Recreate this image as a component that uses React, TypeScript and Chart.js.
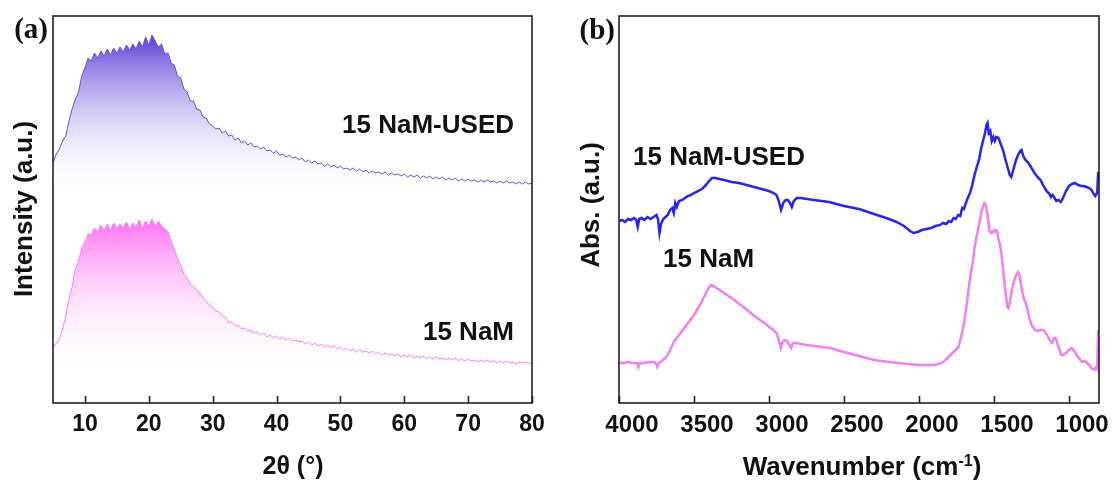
import React, { useEffect, useRef } from "react";
import { Chart, registerables } from "chart.js";
Chart.register(...registerables);

// ---------- Panel (a): XRD ----------
const XRD_ANGLE = [
  5, 5.5, 6, 6.5, 7, 7.5, 8, 8.5, 9, 9.5, 10, 10.5, 11, 11.5, 12, 12.5, 13, 13.5, 14, 14.5,
  15, 15.5, 16, 16.5, 17, 17.5, 18, 18.5, 19, 19.5, 20, 20.5, 21, 21.5, 22, 22.5, 23, 23.5, 24, 24.5,
  25, 25.5, 26, 26.5, 27, 27.5, 28, 28.5, 29, 29.5, 30, 30.5, 31, 31.5, 32, 32.5, 33, 33.5, 34, 34.5,
  35, 35.5, 36, 36.5, 37, 37.5, 38, 38.5, 39, 39.5, 40, 40.5, 41, 41.5, 42, 42.5, 43, 43.5, 44, 44.5,
  45, 45.5, 46, 46.5, 47, 47.5, 48, 48.5, 49, 49.5, 50, 50.5, 51, 51.5, 52, 52.5, 53, 53.5, 54, 54.5,
  55, 55.5, 56, 56.5, 57, 57.5, 58, 58.5, 59, 59.5, 60, 60.5, 61, 61.5, 62, 62.5, 63, 63.5, 64, 64.5,
  65, 65.5, 66, 66.5, 67, 67.5, 68, 68.5, 69, 69.5, 70, 70.5, 71, 71.5, 72, 72.5, 73, 73.5, 74, 74.5,
  75, 75.5, 76, 76.5, 77, 77.5, 78, 78.5, 79, 79.5, 80,
];
const XRD_USED = [
  240, 249, 254, 262, 267, 282, 294, 304, 311, 327, 335, 345, 342, 350, 345, 352, 347, 354, 348, 355,
  350, 356, 351, 358, 353, 359, 354, 362, 356, 366, 358, 368, 362, 356, 359, 349, 350, 340, 338, 327,
  325, 314, 311, 302, 302, 294, 293, 286, 285, 279, 277, 274, 275, 270, 272, 267, 268, 263, 265, 260,
  262, 258, 260, 256, 257, 254, 256, 252, 253, 250, 252, 248, 249, 246, 248, 245, 246, 243, 245, 241,
  243, 240, 242, 239, 240, 237, 239, 236, 238, 235, 237, 234, 235, 233, 235, 232, 234, 231, 233, 230,
  232, 230, 231, 229, 231, 228, 230, 228, 229, 227, 229, 226, 228, 226, 228, 225, 227, 225, 227, 224,
  226, 224, 226, 223, 225, 223, 225, 222, 224, 222, 224, 222, 223, 221, 223, 221, 223, 221, 222, 220,
  222, 220, 222, 220, 221, 219, 221, 219, 221, 219, 220,
];
const XRD_FRESH = [
  55, 60, 64, 74, 87, 104, 116, 134, 142, 155, 161, 169, 168, 175, 171, 178, 172, 179, 173, 180,
  174, 179, 175, 181, 174, 180, 176, 183, 175, 182, 177, 184, 176, 182, 177, 174, 171, 162, 154, 144,
  138, 129, 125, 119, 117, 113, 110, 105, 102, 98, 96, 92, 91, 87, 86, 81, 81, 77, 78, 74,
  75, 72, 73, 70, 71, 68, 70, 66, 68, 65, 67, 64, 66, 63, 65, 62, 63, 61, 62, 59,
  61, 58, 60, 57, 59, 56, 58, 55, 57, 54, 56, 53, 55, 52, 54, 51, 53, 51, 52, 50,
  52, 49, 51, 48, 50, 48, 49, 47, 49, 46, 48, 46, 48, 45, 47, 45, 47, 44, 46, 44,
  46, 44, 45, 43, 45, 43, 45, 42, 44, 42, 44, 42, 43, 41, 43, 41, 43, 41, 42, 40,
  42, 40, 42, 40, 41, 39, 41, 40, 41, 39, 41,
];
const XRD_TICKS = [10, 20, 30, 40, 50, 60, 70, 80];

// ---------- Panel (b): FTIR ----------
const FTIR_WN_USED = [
  4000, 3980, 3960, 3940, 3920, 3900, 3885, 3875, 3865, 3850, 3830, 3810, 3790, 3770, 3750, 3740, 3730, 3720, 3705, 3690,
  3675, 3660, 3645, 3635, 3625, 3615, 3600, 3580, 3560, 3540, 3520, 3500, 3470, 3440, 3420, 3400, 3380, 3360, 3330, 3300,
  3250, 3200, 3150, 3100, 3050, 3000, 2970, 2950, 2935, 2920, 2905, 2890, 2875, 2860, 2848, 2835, 2815, 2790, 2700, 2600,
  2500, 2400, 2300, 2200, 2150, 2100, 2060, 2035, 2010, 1980, 1950, 1920, 1890, 1860, 1840, 1820, 1800, 1785, 1770, 1755,
  1740, 1725, 1712, 1700, 1690, 1675, 1660, 1645, 1630, 1615, 1600, 1585, 1570, 1560, 1550, 1543, 1535, 1525, 1515, 1505,
  1495, 1485, 1470, 1455, 1440, 1425, 1410, 1395, 1385, 1370, 1355, 1340, 1325, 1317, 1305, 1290, 1270, 1250, 1230, 1210,
  1190, 1170, 1150, 1130, 1120, 1110, 1100, 1085, 1070, 1055, 1040, 1020, 1000, 980, 960, 940, 920, 900, 884, 865,
  850, 835, 825, 812, 806, 800,
];
const FTIR_USED = [
  1.82, 1.83, 1.81, 1.84, 1.83, 1.85, 1.83, 1.76, 1.84, 1.85, 1.83, 1.86, 1.84, 1.86, 1.88, 1.84, 1.70, 1.79, 1.84, 1.86,
  1.88, 1.93, 1.95, 1.90, 2.00, 1.96, 2.02, 2.03, 2.05, 2.07, 2.08, 2.10, 2.12, 2.15, 2.18, 2.22, 2.25, 2.25, 2.24, 2.23,
  2.21, 2.20, 2.18, 2.16, 2.14, 2.12, 2.10, 2.08, 2.02, 1.93, 2.00, 2.03, 2.03, 2.00, 1.96, 2.02, 2.05, 2.05, 2.03, 2.01,
  1.97, 1.94, 1.89, 1.84, 1.81, 1.77, 1.72, 1.70, 1.71, 1.73, 1.74, 1.75, 1.77, 1.78, 1.80, 1.79, 1.82, 1.81, 1.85, 1.84,
  1.88, 1.87, 1.95, 1.94, 1.99, 2.05, 2.10, 2.18, 2.28, 2.36, 2.43, 2.55, 2.64, 2.70, 2.78, 2.80, 2.70, 2.72, 2.62, 2.66,
  2.62, 2.66, 2.65, 2.59, 2.53, 2.44, 2.36, 2.28, 2.26, 2.34, 2.42, 2.48, 2.52, 2.53, 2.47, 2.43, 2.40, 2.35, 2.30, 2.26,
  2.23, 2.17, 2.12, 2.09, 2.06, 2.08, 2.06, 2.02, 2.03, 2.01, 2.05, 2.12, 2.17, 2.19, 2.20, 2.18, 2.17, 2.17, 2.16, 2.15,
  2.13, 2.09, 2.07, 2.10, 2.30, 2.30,
];
const FTIR_WN_FRESH = [
  4000, 3970, 3940, 3910, 3880, 3870, 3860, 3830, 3800, 3770, 3755, 3745, 3735, 3715, 3700, 3685, 3665, 3650, 3630, 3611,
  3590, 3570, 3540, 3520, 3500, 3480, 3460, 3440, 3420, 3400, 3385, 3370, 3350, 3320, 3300, 3270, 3240, 3207, 3170, 3130,
  3089, 3050, 3020, 3000, 2970, 2950, 2935, 2922, 2910, 2895, 2880, 2865, 2852, 2840, 2820, 2790, 2750, 2700, 2650, 2591,
  2550, 2500, 2450, 2400, 2350, 2300, 2250, 2200, 2141, 2080, 2000, 1950, 1903, 1870, 1850, 1832, 1810, 1790, 1770, 1750,
  1737, 1730, 1720, 1710, 1700, 1690, 1678, 1665, 1652, 1642, 1630, 1620, 1607, 1595, 1585, 1575, 1565, 1558, 1550, 1540,
  1530, 1520, 1510, 1500, 1490, 1480, 1470, 1460, 1450, 1440, 1430, 1420, 1410, 1405, 1395, 1385, 1370, 1355, 1340, 1330,
  1320, 1310, 1300, 1289, 1275, 1265, 1255, 1242, 1225, 1210, 1190, 1171, 1155, 1140, 1125, 1113, 1100, 1089, 1075, 1060,
  1053, 1040, 1020, 1000, 982, 965, 950, 930, 912, 895, 880, 865, 852, 840, 830, 820, 812, 806, 800,
];
const FTIR_FRESH = [
  0.40, 0.40, 0.41, 0.40, 0.40, 0.36, 0.40, 0.40, 0.41, 0.41, 0.40, 0.36, 0.40, 0.42, 0.44, 0.46, 0.51, 0.56, 0.62, 0.66,
  0.70, 0.74, 0.80, 0.84, 0.88, 0.93, 0.98, 1.04, 1.10, 1.16, 1.18, 1.17, 1.15, 1.12, 1.10, 1.07, 1.04, 1.00, 0.96, 0.91,
  0.86, 0.82, 0.79, 0.76, 0.73, 0.70, 0.63, 0.55, 0.61, 0.63, 0.62, 0.58, 0.55, 0.60, 0.60, 0.59, 0.58, 0.57, 0.56, 0.55,
  0.53, 0.51, 0.49, 0.47, 0.45, 0.43, 0.42, 0.41, 0.40, 0.39, 0.38, 0.38, 0.38, 0.39, 0.40, 0.42, 0.45, 0.48, 0.51, 0.54,
  0.56, 0.60, 0.66, 0.72, 0.80, 0.90, 1.04, 1.20, 1.32, 1.40, 1.55, 1.64, 1.73, 1.82, 1.90, 1.96, 2.00, 1.99, 1.94, 1.84,
  1.72, 1.70, 1.72, 1.71, 1.73, 1.72, 1.64, 1.58, 1.48, 1.34, 1.20, 1.06, 0.96, 0.95, 1.00, 1.10, 1.20, 1.27, 1.31, 1.28,
  1.18, 1.10, 1.04, 1.00, 0.92, 0.85, 0.80, 0.76, 0.73, 0.72, 0.73, 0.73, 0.70, 0.66, 0.62, 0.60, 0.65, 0.65, 0.58, 0.52,
  0.48, 0.48, 0.50, 0.53, 0.55, 0.52, 0.48, 0.44, 0.41, 0.42, 0.40, 0.38, 0.35, 0.34, 0.33, 0.36, 0.34, 0.72, 0.72,
];
const FTIR_TICKS = [4000, 3500, 3000, 2500, 2000, 1500, 1000];

const SANS = '"Liberation Sans", Arial, sans-serif';
const SERIF = '"Liberation Serif", "Times New Roman", serif';

type TextItem = {
  text: string;
  x: number;
  y: number;
  font: string;
  align?: CanvasTextAlign;
  baseline?: CanvasTextBaseline;
  rotate?: number;
  sup?: string;
  tail?: string;
  supFont?: string;
};

const decorPlugin = {
  id: "decor",
  afterDraw(chart: any, _args: any, opts: any) {
    const { ctx, chartArea: a } = chart;
    const xs = chart.scales.x;
    ctx.save();
    ctx.strokeStyle = "#222";
    ctx.lineWidth = 1.6;
    ctx.strokeRect(a.left, a.top, a.right - a.left, a.bottom - a.top);
    xs.ticks.forEach((t: any) => {
      const px = Math.round(xs.getPixelForValue(t.value)) + 0.5;
      ctx.beginPath();
      ctx.moveTo(px, a.bottom);
      ctx.lineTo(px, a.bottom - 7);
      ctx.stroke();
    });
    ctx.fillStyle = "#111";
    (opts.texts || []).forEach((t: TextItem) => {
      ctx.save();
      ctx.translate(t.x, t.y);
      if (t.rotate) ctx.rotate(t.rotate);
      ctx.font = t.font;
      ctx.textBaseline = t.baseline || "alphabetic";
      if (t.sup) {
        const w1 = ctx.measureText(t.text).width;
        ctx.font = t.supFont!;
        const w2 = ctx.measureText(t.sup).width;
        ctx.font = t.font;
        const w3 = ctx.measureText(t.tail || "").width;
        const x0 = -(w1 + w2 + w3) / 2;
        ctx.textAlign = "left";
        ctx.fillText(t.text, x0, 0);
        ctx.font = t.supFont!;
        ctx.fillText(t.sup, x0 + w1, -9);
        ctx.font = t.font;
        ctx.fillText(t.tail || "", x0 + w1 + w2, 0);
      } else {
        ctx.textAlign = t.align || "center";
        ctx.fillText(t.text, 0, 0);
      }
      ctx.restore();
    });
    ctx.restore();
  },
};

function pts(xs: number[], ys: number[]) {
  return xs.map((x, i) => ({ x, y: ys[i] }));
}

function gradientFill(color: string, topVal: number, botVal: number) {
  return (c: any) => {
    const chart = c.chart;
    const ys = chart.scales?.y;
    if (!chart.chartArea || !ys) return color;
    const g = chart.ctx.createLinearGradient(0, ys.getPixelForValue(topVal), 0, ys.getPixelForValue(botVal));
    g.addColorStop(0, color);
    g.addColorStop(1, "rgba(255,255,255,0)");
    return g;
  };
}

function XrdChart() {
  const ref = useRef<HTMLCanvasElement>(null);
  useEffect(() => {
    const chart = new Chart(ref.current!, {
      type: "line",
      data: {
        datasets: [
          {
            label: "15 NaM-USED",
            data: pts(XRD_ANGLE, XRD_USED),
            borderColor: "rgb(105,80,225)",
            borderWidth: 1,
            pointRadius: 0,
            fill: "origin",
            backgroundColor: gradientFill("rgba(88,58,212,1)", 370, 205),
          },
          {
            label: "15 NaM",
            data: pts(XRD_ANGLE, XRD_FRESH),
            borderColor: "rgb(255,125,245)",
            borderWidth: 1,
            pointRadius: 0,
            fill: "origin",
            backgroundColor: gradientFill("rgba(255,110,242,1)", 185, 30),
          },
        ],
      },
      options: {
        responsive: false,
        animation: false,
        devicePixelRatio: 1,
        layout: { padding: { top: 16, right: 28, left: 0, bottom: 0 } },
        plugins: {
          legend: { display: false },
          tooltip: { enabled: false },
          decor: {
            texts: [
              { text: "(a)", x: 48, y: 31, font: `bold 29px ${SERIF}`, align: "right", baseline: "middle" },
              { text: "Intensity (a.u.)", x: 25, y: 209, font: `bold 26px ${SANS}`, rotate: -Math.PI / 2, baseline: "middle" },
              { text: "2θ (°)", x: 293, y: 467, font: `bold 25px ${SANS}`, baseline: "middle" },
              { text: "15 NaM-USED", x: 514, y: 133, font: `bold 26px ${SANS}`, align: "right" },
              { text: "15 NaM", x: 514, y: 340, font: `bold 26px ${SANS}`, align: "right" },
            ],
          },
        } as any,
        scales: {
          x: {
            type: "linear",
            min: 5,
            max: 80,
            afterFit: (s: any) => { s.height = 83; },
            afterBuildTicks: (s: any) => { s.ticks = XRD_TICKS.map((v) => ({ value: v })); },
            grid: { display: false, drawTicks: false },
            border: { display: false },
            ticks: {
              color: "#111", padding: 8, maxRotation: 0,
              callback: (v: any) => String(v),
              font: { family: SANS, size: 23, weight: "bold" },
            },
          },
          y: {
            type: "linear",
            min: 0,
            max: 387,
            afterFit: (s: any) => { s.width = 53; },
            grid: { display: false, drawTicks: false },
            border: { display: false },
            ticks: { display: false },
          },
        },
      },
      plugins: [decorPlugin],
    });
    return () => chart.destroy();
  }, []);
  return <canvas ref={ref} width={560} height={486} style={{ position: "absolute", left: 0, top: 0 }} />;
}

function FtirChart() {
  const ref = useRef<HTMLCanvasElement>(null);
  useEffect(() => {
    const chart = new Chart(ref.current!, {
      type: "line",
      data: {
        datasets: [
          {
            label: "15 NaM-USED",
            data: pts(FTIR_WN_USED, FTIR_USED),
            borderColor: "rgb(38,38,232)",
            borderWidth: 2.5,
            pointRadius: 0,
            fill: false,
          },
          {
            label: "15 NaM",
            data: pts(FTIR_WN_FRESH, FTIR_FRESH),
            borderColor: "rgb(240,128,240)",
            borderWidth: 2.5,
            pointRadius: 0,
            fill: false,
          },
        ],
      },
      options: {
        responsive: false,
        animation: false,
        devicePixelRatio: 1,
        layout: { padding: { top: 16, right: 19, left: 0, bottom: 0 } },
        plugins: {
          legend: { display: false },
          tooltip: { enabled: false },
          decor: {
            texts: [
              { text: "(b)", x: 55, y: 32, font: `bold 29px ${SERIF}`, align: "right", baseline: "middle" },
              { text: "Abs. (a.u.)", x: 32, y: 205, font: `bold 26px ${SANS}`, rotate: -Math.PI / 2, baseline: "middle" },
              { text: "Wavenumber (cm", sup: "-1", tail: ")", supFont: `bold 16px ${SANS}`, x: 302, y: 475, font: `bold 26px ${SANS}` },
              { text: "15 NaM-USED", x: 73, y: 165, font: `bold 26px ${SANS}`, align: "left" },
              { text: "15 NaM", x: 103, y: 267, font: `bold 26px ${SANS}`, align: "left" },
            ],
          },
        } as any,
        scales: {
          x: {
            type: "linear",
            reverse: true,
            min: 800,
            max: 4000,
            afterFit: (s: any) => { s.height = 83; },
            afterBuildTicks: (s: any) => { s.ticks = FTIR_TICKS.map((v) => ({ value: v })); },
            grid: { display: false, drawTicks: false },
            border: { display: false },
            ticks: {
              color: "#111", padding: 8, labelOffset: 13, maxRotation: 0,
              callback: (v: any) => String(v),
              font: { family: SANS, size: 24, weight: "bold" },
            },
          },
          y: {
            type: "linear",
            min: 0,
            max: 3.87,
            afterFit: (s: any) => { s.width = 59; },
            grid: { display: false, drawTicks: false },
            border: { display: false },
            ticks: { display: false },
          },
        },
      },
      plugins: [decorPlugin],
    });
    return () => chart.destroy();
  }, []);
  return <canvas ref={ref} width={558} height={486} style={{ position: "absolute", left: 560, top: 0 }} />;
}

export default function App() {
  return (
    <div style={{ position: "absolute", left: 0, top: 0, width: 1118, height: 486, background: "#fff" }}>
      <XrdChart />
      <FtirChart />
    </div>
  );
}
